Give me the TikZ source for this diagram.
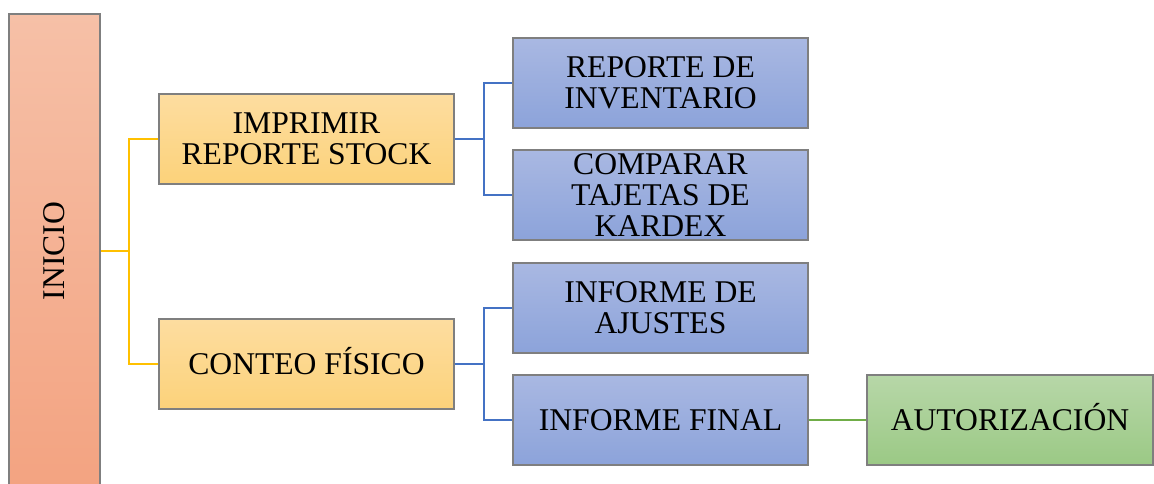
\documentclass[tikz,border=0pt]{standalone}
\usepackage{fontspec}
\setmainfont{Liberation Serif}
\definecolor{lineyellow}{HTML}{FFC000}
\definecolor{lineblue}{HTML}{4472C4}
\definecolor{linegreen}{HTML}{70AD47}
\definecolor{boxgray}{HTML}{7F7F7F}
\definecolor{rootA}{HTML}{F6C0A7}
\definecolor{rootB}{HTML}{F3A381}
\definecolor{yelA}{HTML}{FDDDA0}
\definecolor{yelB}{HTML}{FCD27A}
\definecolor{bluA}{HTML}{A9B8E2}
\definecolor{bluB}{HTML}{8CA3DA}
\definecolor{grnA}{HTML}{B7D7A8}
\definecolor{grnB}{HTML}{9BC985}
\begin{document}
\begin{tikzpicture}[
  box/.style={draw=boxgray, line width=0.8pt, rectangle, align=center,
    minimum width=5.9cm, minimum height=1.8cm, inner sep=0pt,
    font=\fontsize{18}{17.6}\selectfont},
  rootbox/.style={box, top color=rootA, bottom color=rootB,
    minimum width=1.82cm, minimum height=9.48cm},
  stepbox/.style={box, top color=yelA, bottom color=yelB},
  taskbox/.style={box, top color=bluA, bottom color=bluB},
  endbox/.style={box, top color=grnA, bottom color=grnB, minimum width=5.72cm},
  ylink/.style={lineyellow, line width=1.4pt},
  blink/.style={lineblue, line width=1.2pt},
  glink/.style={linegreen, line width=1pt}]
\useasboundingbox (0,0) rectangle (23.08,9.66);
\clip (0,0) rectangle (23.08,9.66);
\node[rootbox] (inicio) at (1.09,4.64) {\rotatebox{90}{INICIO}};
\node[stepbox] (imprimir) at (6.13,6.88) {IMPRIMIR\\REPORTE STOCK};
\node[stepbox] (conteo) at (6.13,2.38) {CONTEO F\smash{Í}SICO};
\node[taskbox] (reporte) at (13.21,8.0) {REPORTE DE\\INVENTARIO};
\node[taskbox] (comparar) at (13.21,5.76) {COMPARAR\\TAJETAS DE\\KARDEX};
\node[taskbox] (ajustes) at (13.21,3.5) {INFORME DE\\AJUSTES};
\node[taskbox] (final) at (13.21,1.26) {INFORME FINAL};
\node[endbox] (autoriz) at (20.2,1.26) {AUTORIZACI\smash{Ó}N};
\coordinate (j0) at (2.58,4.64);
\coordinate (j1) at (9.68,6.88);
\coordinate (j2) at (9.68,2.38);
% ramas del inicio
\draw[ylink] (inicio.east |- j0) -- (j0);
\draw[ylink] (j0) |- (imprimir);
\draw[ylink] (j0) |- (conteo);
% ramas de los pasos
\draw[blink] (imprimir) -- (j1);
\draw[blink] (j1) |- (reporte);
\draw[blink] (j1) |- (comparar);
\draw[blink] (conteo) -- (j2);
\draw[blink] (j2) |- (ajustes);
\draw[blink] (j2) |- (final);
\draw[glink] (final) -- (autoriz);
\end{tikzpicture}
\end{document}
